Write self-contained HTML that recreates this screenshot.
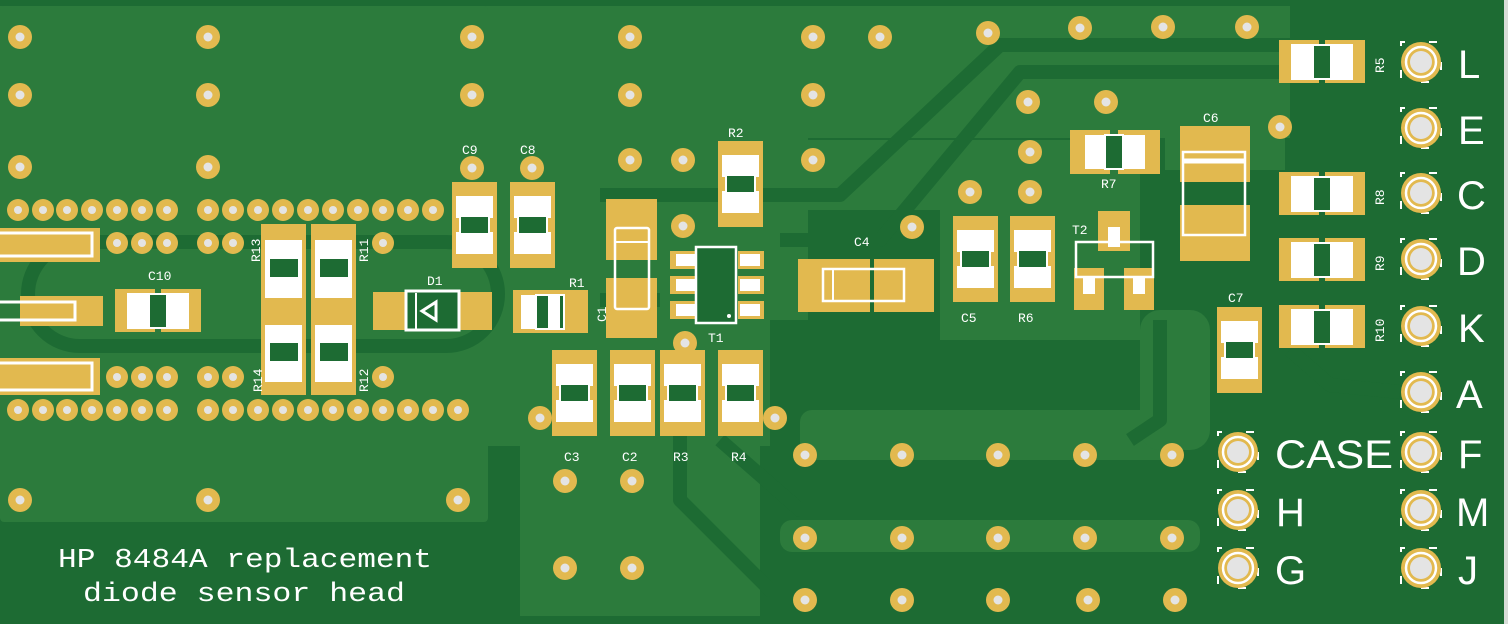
<!DOCTYPE html>
<html><head><meta charset="utf-8"><style>
html,body{margin:0;padding:0;background:#1d6b33;}
svg{display:block}
.t{font-family:"Liberation Mono",monospace;fill:#fff;font-size:13px}
.big{font-family:"Liberation Sans",sans-serif;fill:#fff;font-size:40px;font-weight:normal}
</style></head><body>
<svg width="1508" height="624" viewBox="0 0 1508 624" xmlns="http://www.w3.org/2000/svg">
<defs>
<g id="v"><circle r="12" fill="#e2b94f"/><circle r="4.5" fill="#e4e4e4"/></g>
<g id="sv"><circle r="11" fill="#e2b94f"/><circle r="4" fill="#e4e4e4"/></g>
<g id="cn"><rect x="-20" y="-20" width="40" height="40" fill="none" stroke="#fff" stroke-width="2" stroke-dasharray="8 24" stroke-dashoffset="4"/><circle r="20" fill="#e2b94f"/><circle r="15" fill="none" stroke="#fff" stroke-width="2.5"/><circle r="11" fill="#e4e4e4"/></g>
<g id="rh"><rect x="0" y="0" width="40" height="43" fill="#e2b94f"/><rect x="46" y="0" width="40" height="43" fill="#e2b94f"/><rect x="12" y="4" width="26" height="36" fill="#fff"/><rect x="48" y="4" width="26" height="36" fill="#fff"/><rect x="34" y="5" width="18" height="34" fill="#1d6b33" stroke="#fff" stroke-width="2"/></g>
<g id="cv"><rect x="0" y="0" width="45" height="86" fill="#e2b94f"/><rect x="4" y="14" width="37" height="22" fill="#fff"/><rect x="4" y="50" width="37" height="22" fill="#fff"/><rect x="8" y="34" width="29" height="18" fill="#1d6b33" stroke="#fff" stroke-width="2"/></g>
</defs>
<rect width="1508" height="624" fill="#1d6b33"/>
<!-- copper fills -->
<rect x="0" y="6" width="1290" height="132" fill="#2c7b3c"/>
<rect x="0" y="6" width="488" height="516" rx="4" fill="#2c7b3c"/>
<rect x="488" y="6" width="320" height="440" fill="#2c7b3c"/>
<rect x="520" y="446" width="240" height="170" fill="#2c7b3c"/>
<rect x="770" y="320" width="370" height="126" fill="#1d6b33"/>
<rect x="800" y="140" width="280" height="70" fill="#2c7b3c"/>
<rect x="940" y="140" width="200" height="200" fill="#2c7b3c"/>
<rect x="800" y="410" width="380" height="50" rx="12" fill="#2c7b3c"/>
<rect x="780" y="520" width="420" height="32" rx="12" fill="#2c7b3c"/>
<rect x="1140" y="310" width="70" height="140" rx="20" fill="#2c7b3c"/>
<rect x="1165" y="130" width="120" height="40" fill="#2c7b3c"/>
<!-- dark traces -->
<g fill="none" stroke="#1d6b33" stroke-width="14" stroke-linejoin="round">
<rect x="28" y="242" width="470" height="104" rx="52"/>
<polyline points="600,195 840,195 1000,45 1290,45"/>
<polyline points="780,240 880,240 1020,72 1280,72"/>
<polyline points="600,300 660,300"/>
<polyline points="680,420 680,500 770,590 1190,590"/>
<polyline points="720,440 800,510 1200,510"/>
<polyline points="1160,320 1160,420 1130,440"/>
<polyline points="1290,350 1330,385 1400,392"/>
</g>
<!-- vias -->
<g>
<use href="#v" x="20" y="37"/><use href="#v" x="208" y="37"/><use href="#v" x="472" y="37"/><use href="#v" x="630" y="37"/><use href="#v" x="813" y="37"/><use href="#v" x="880" y="37"/><use href="#v" x="988" y="33"/><use href="#v" x="1080" y="28"/><use href="#v" x="1163" y="27"/><use href="#v" x="1247" y="27"/>
<use href="#v" x="20" y="95"/><use href="#v" x="208" y="95"/><use href="#v" x="472" y="95"/><use href="#v" x="630" y="95"/><use href="#v" x="813" y="95"/><use href="#v" x="1028" y="102"/><use href="#v" x="1106" y="102"/><use href="#v" x="1280" y="127"/>
<use href="#v" x="20" y="167"/><use href="#v" x="208" y="167"/><use href="#v" x="472" y="168"/><use href="#v" x="532" y="168"/><use href="#v" x="630" y="160"/><use href="#v" x="683" y="160"/><use href="#v" x="813" y="160"/><use href="#v" x="1030" y="152"/><use href="#v" x="1030" y="192"/><use href="#v" x="970" y="192"/><use href="#v" x="912" y="227"/><use href="#v" x="683" y="226"/><use href="#v" x="685" y="343"/><use href="#v" x="540" y="418"/><use href="#v" x="775" y="418"/>
</g>
<g>
<use href="#sv" x="18" y="210"/><use href="#sv" x="43" y="210"/><use href="#sv" x="67" y="210"/><use href="#sv" x="92" y="210"/><use href="#sv" x="117" y="210"/><use href="#sv" x="142" y="210"/><use href="#sv" x="167" y="210"/>
<use href="#sv" x="208" y="210"/><use href="#sv" x="233" y="210"/><use href="#sv" x="258" y="210"/><use href="#sv" x="283" y="210"/><use href="#sv" x="308" y="210"/><use href="#sv" x="333" y="210"/><use href="#sv" x="358" y="210"/><use href="#sv" x="383" y="210"/><use href="#sv" x="408" y="210"/><use href="#sv" x="433" y="210"/>
<use href="#sv" x="117" y="243"/><use href="#sv" x="142" y="243"/><use href="#sv" x="167" y="243"/><use href="#sv" x="208" y="243"/><use href="#sv" x="233" y="243"/><use href="#sv" x="383" y="243"/>
<use href="#sv" x="117" y="377"/><use href="#sv" x="142" y="377"/><use href="#sv" x="167" y="377"/><use href="#sv" x="208" y="377"/><use href="#sv" x="233" y="377"/><use href="#sv" x="383" y="377"/>
<use href="#sv" x="18" y="410"/><use href="#sv" x="43" y="410"/><use href="#sv" x="67" y="410"/><use href="#sv" x="92" y="410"/><use href="#sv" x="117" y="410"/><use href="#sv" x="142" y="410"/><use href="#sv" x="167" y="410"/>
<use href="#sv" x="208" y="410"/><use href="#sv" x="233" y="410"/><use href="#sv" x="258" y="410"/><use href="#sv" x="283" y="410"/><use href="#sv" x="308" y="410"/><use href="#sv" x="333" y="410"/><use href="#sv" x="358" y="410"/><use href="#sv" x="383" y="410"/><use href="#sv" x="408" y="410"/><use href="#sv" x="433" y="410"/><use href="#sv" x="458" y="410"/>
<use href="#v" x="20" y="500"/><use href="#v" x="208" y="500"/><use href="#v" x="458" y="500"/>
<use href="#v" x="565" y="481"/><use href="#v" x="632" y="481"/><use href="#v" x="565" y="568"/><use href="#v" x="632" y="568"/>
<use href="#v" x="805" y="455"/><use href="#v" x="902" y="455"/><use href="#v" x="998" y="455"/><use href="#v" x="1085" y="455"/><use href="#v" x="1172" y="455"/>
<use href="#v" x="805" y="538"/><use href="#v" x="902" y="538"/><use href="#v" x="998" y="538"/><use href="#v" x="1085" y="538"/><use href="#v" x="1172" y="538"/>
<use href="#v" x="805" y="600"/><use href="#v" x="902" y="600"/><use href="#v" x="998" y="600"/><use href="#v" x="1088" y="600"/><use href="#v" x="1175" y="600"/>
</g>
<!-- left connector pads -->
<rect x="0" y="228" width="100" height="34" fill="#e2b94f"/><rect x="-4" y="233" width="96" height="23" fill="none" stroke="#fff" stroke-width="3"/>
<rect x="20" y="296" width="83" height="30" fill="#e2b94f"/><rect x="-4" y="302" width="79" height="18" fill="none" stroke="#fff" stroke-width="3"/>
<rect x="0" y="358" width="100" height="37" fill="#e2b94f"/><rect x="-4" y="363" width="96" height="27" fill="none" stroke="#fff" stroke-width="3"/>
<!-- C10 -->
<use href="#rh" x="115" y="289"/>
<text class="t" x="148" y="280">C10</text>
<!-- R13/R14, R11/R12 columns -->
<rect x="261" y="224" width="45" height="171" fill="#e2b94f"/><rect x="311" y="224" width="45" height="171" fill="#e2b94f"/>
<g fill="#fff"><rect x="265" y="240" width="37" height="58"/><rect x="315" y="240" width="37" height="58"/><rect x="265" y="325" width="37" height="57"/><rect x="315" y="325" width="37" height="57"/></g>
<g fill="#1d6b33" stroke="#fff" stroke-width="2"><rect x="269" y="258" width="30" height="20"/><rect x="319" y="258" width="30" height="20"/><rect x="269" y="342" width="30" height="20"/><rect x="319" y="342" width="30" height="20"/></g>
<text class="t" transform="translate(260,262) rotate(-90)">R13</text>
<text class="t" transform="translate(368,262) rotate(-90)">R11</text>
<text class="t" transform="translate(262,392) rotate(-90)">R14</text>
<text class="t" transform="translate(368,392) rotate(-90)">R12</text>
<!-- D1 -->
<rect x="373" y="292" width="38" height="38" fill="#e2b94f"/><rect x="448" y="292" width="44" height="38" fill="#e2b94f"/>
<rect x="406" y="291" width="53" height="39" fill="#1d6b33" stroke="#fff" stroke-width="3"/>
<line x1="416" y1="293" x2="416" y2="329" stroke="#fff" stroke-width="2"/>
<polygon points="422,311 436,302 436,320" fill="none" stroke="#fff" stroke-width="3"/>
<text class="t" x="427" y="285">D1</text>
<!-- C9 C8 -->
<use href="#cv" x="452" y="182"/><use href="#cv" x="510" y="182"/>
<text class="t" x="462" y="154">C9</text><text class="t" x="520" y="154">C8</text>
<!-- R1 -->
<rect x="513" y="290" width="38" height="43" fill="#e2b94f"/><rect x="548" y="290" width="40" height="43" fill="#e2b94f"/>
<rect x="521" y="295" width="42" height="34" fill="#fff"/><rect x="536" y="295" width="28" height="34" fill="#1d6b33" stroke="#fff" stroke-width="2"/><rect x="540" y="295" width="20" height="34" fill="#fff"/><rect x="536" y="295" width="13" height="34" fill="#1d6b33" stroke="#fff" stroke-width="2"/>
<text class="t" x="569" y="287">R1</text>
<!-- C1 -->
<rect x="606" y="199" width="51" height="61" fill="#e2b94f"/><rect x="606" y="278" width="51" height="60" fill="#e2b94f"/>
<rect x="615" y="228" width="34" height="81" rx="2" fill="none" stroke="#fff" stroke-width="2.5"/><line x1="615" y1="242" x2="649" y2="242" stroke="#fff" stroke-width="2"/>
<text class="t" transform="translate(606,322) rotate(-90)">C1</text>
<!-- R2 -->
<use href="#cv" x="718" y="141"/>
<text class="t" x="728" y="137">R2</text>
<!-- T1 -->
<g fill="#e2b94f"><rect x="670" y="251" width="28" height="18"/><rect x="670" y="276" width="28" height="18"/><rect x="670" y="301" width="28" height="18"/><rect x="738" y="251" width="26" height="18"/><rect x="738" y="276" width="26" height="18"/><rect x="738" y="301" width="26" height="18"/></g>
<g fill="#fff"><rect x="676" y="254" width="20" height="12"/><rect x="676" y="279" width="20" height="12"/><rect x="676" y="304" width="20" height="12"/><rect x="740" y="254" width="20" height="12"/><rect x="740" y="279" width="20" height="12"/><rect x="740" y="304" width="20" height="12"/></g>
<rect x="696" y="247" width="40" height="76" fill="#1d6b33" stroke="#fff" stroke-width="2.5"/>
<circle cx="729" cy="316" r="2" fill="#fff"/>
<text class="t" x="708" y="342">T1</text>
<!-- C3 C2 R3 R4 -->
<use href="#cv" x="552" y="350"/><use href="#cv" x="610" y="350"/><use href="#cv" x="660" y="350"/><use href="#cv" x="718" y="350"/>
<text class="t" x="564" y="461">C3</text><text class="t" x="622" y="461">C2</text><text class="t" x="673" y="461">R3</text><text class="t" x="731" y="461">R4</text>
<!-- C4 -->
<rect x="798" y="259" width="72" height="53" fill="#e2b94f"/><rect x="874" y="259" width="60" height="53" fill="#e2b94f"/>
<rect x="823" y="269" width="81" height="32" fill="none" stroke="#fff" stroke-width="2.5"/><line x1="833" y1="269" x2="833" y2="301" stroke="#fff" stroke-width="2"/>
<text class="t" x="854" y="246">C4</text>
<!-- C5 R6 -->
<use href="#cv" x="953" y="216"/><use href="#cv" x="1010" y="216"/>
<text class="t" x="961" y="322">C5</text><text class="t" x="1018" y="322">R6</text>
<!-- R7 -->
<g transform="translate(1070,130)"><rect x="0" y="0" width="40" height="44" fill="#e2b94f"/><rect x="48" y="0" width="42" height="44" fill="#e2b94f"/><rect x="15" y="5" width="60" height="34" fill="#fff"/><rect x="35" y="5" width="18" height="34" fill="#1d6b33" stroke="#fff" stroke-width="2"/></g>
<text class="t" x="1101" y="188">R7</text>
<!-- T2 -->
<rect x="1098" y="211" width="32" height="40" fill="#e2b94f"/><rect x="1074" y="268" width="30" height="42" fill="#e2b94f"/><rect x="1124" y="268" width="30" height="42" fill="#e2b94f"/>
<rect x="1108" y="227" width="12" height="20" fill="#fff"/><rect x="1083" y="276" width="12" height="18" fill="#fff"/><rect x="1133" y="276" width="12" height="18" fill="#fff"/>
<rect x="1076" y="242" width="77" height="35" fill="none" stroke="#fff" stroke-width="2.5"/>
<text class="t" x="1072" y="234">T2</text>
<!-- C6 -->
<rect x="1180" y="126" width="70" height="56" fill="#e2b94f"/><rect x="1180" y="205" width="70" height="56" fill="#e2b94f"/>
<rect x="1183" y="152" width="62" height="83" fill="none" stroke="#fff" stroke-width="2.5"/><line x1="1183" y1="161" x2="1245" y2="161" stroke="#fff" stroke-width="5"/>
<text class="t" x="1203" y="122">C6</text>
<!-- C7 -->
<use href="#cv" x="1217" y="307"/>
<text class="t" x="1228" y="302">C7</text>
<!-- R5 R8 R9 R10 -->
<use href="#rh" x="1279" y="40"/><use href="#rh" x="1279" y="172"/><use href="#rh" x="1279" y="238"/><use href="#rh" x="1279" y="305"/>
<text class="t" transform="translate(1384,73) rotate(-90)">R5</text>
<text class="t" transform="translate(1384,205) rotate(-90)">R8</text>
<text class="t" transform="translate(1384,271) rotate(-90)">R9</text>
<text class="t" transform="translate(1384,342) rotate(-90)">R10</text>
<!-- connectors -->
<use href="#cn" x="1421" y="62"/><use href="#cn" x="1421" y="128"/><use href="#cn" x="1421" y="193"/><use href="#cn" x="1421" y="259"/><use href="#cn" x="1421" y="326"/><use href="#cn" x="1421" y="392"/><use href="#cn" x="1421" y="452"/><use href="#cn" x="1421" y="510"/><use href="#cn" x="1421" y="568"/>
<use href="#cn" x="1238" y="452"/><use href="#cn" x="1238" y="510"/><use href="#cn" x="1238" y="568"/>
<g class="big">
<text x="1458" y="78">L</text><text x="1458" y="144">E</text><text x="1457" y="209">C</text><text x="1457" y="275">D</text><text x="1458" y="342">K</text><text x="1456" y="408">A</text><text x="1458" y="468">F</text><text x="1456" y="526">M</text><text x="1458" y="584">J</text>
<text x="1275" y="468" textLength="118" lengthAdjust="spacingAndGlyphs">CASE</text><text x="1276" y="526">H</text><text x="1275" y="584">G</text>
</g>
<!-- title -->
<text x="58" y="567" font-family="Liberation Mono,monospace" font-size="27" fill="#fff" textLength="374" lengthAdjust="spacingAndGlyphs">HP 8484A replacement</text>
<text x="83" y="601" font-family="Liberation Mono,monospace" font-size="27" fill="#fff" textLength="322" lengthAdjust="spacingAndGlyphs">diode sensor head</text>
<rect x="1504" y="0" width="4" height="624" fill="#d8dcd8"/>
</svg>
</body></html>
